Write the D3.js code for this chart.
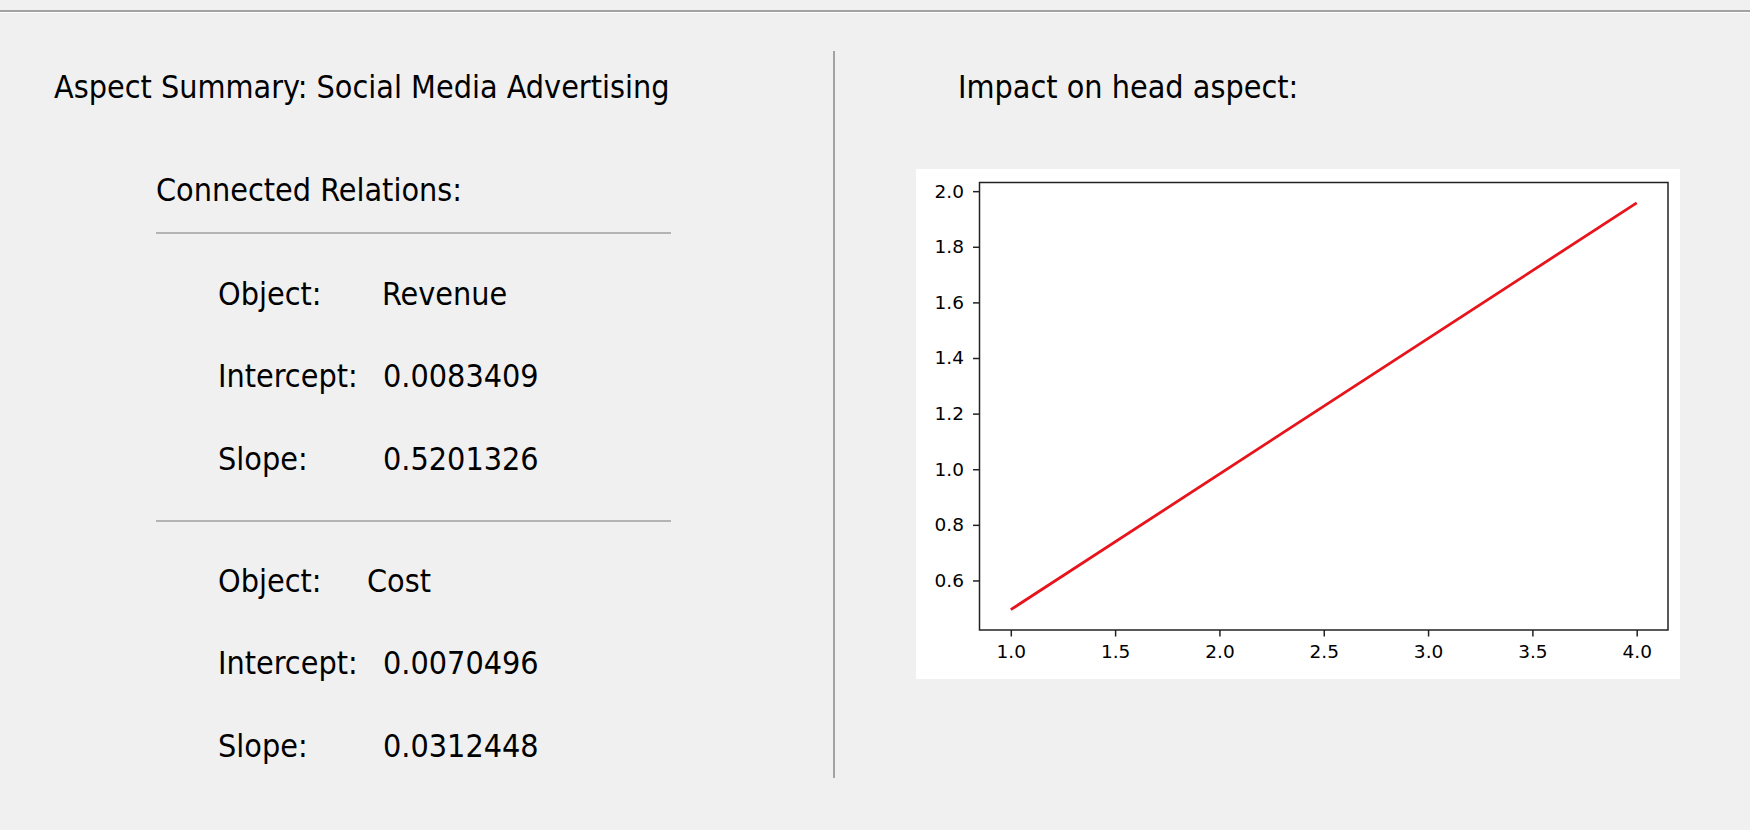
<!DOCTYPE html>
<html>
<head>
<meta charset="utf-8">
<script src="https://cdn.jsdelivr.net/npm/d3@7"></script>
<style>
  body { margin: 0; background: #f0f0f0; }
  svg text { font-family: "DejaVu Sans Condensed", "DejaVu Sans", sans-serif; }
</style>
</head>
<body>
<div id="image"></div>
<script>
const title = "Aspect Summary: Social Media Advertising";
const plotTitle = "Impact on head aspect:";
const relObjects = ["Revenue", "Cost"];
const relIntercepts = ["0.0083409", "0.0070496"];
const relSlopes = ["0.5201326", "0.0312448"];
const fieldNames = ["Object:", "Intercept:", "Slope:"];

// fitted line endpoints (x, y)
const lineX = [1.0, 4.0];
const lineY = [0.495, 1.958];
const xTicks = [1.0, 1.5, 2.0, 2.5, 3.0, 3.5, 4.0];
const yTicks = [0.6, 0.8, 1.0, 1.2, 1.4, 1.6, 1.8, 2.0];

var w = 1750, h = 830;
var fs = 32;

var svg = d3.select("#image").append("svg")
    .attr("width", w)
    .attr("height", h);

svg.append("rect").attr("width", w).attr("height", h).attr("fill", "#f0f0f0");

// window frame line at top
svg.append("line").attr("x1", 0).attr("x2", w).attr("y1", 11).attr("y2", 11)
    .attr("stroke", "#a3a3a3").attr("stroke-width", 2);
svg.append("line").attr("x1", 0).attr("x2", w).attr("y1", 12.5).attr("y2", 12.5)
    .attr("stroke", "#ffffff").attr("stroke-width", 1);

// divider
svg.append("line").attr("x1", 834).attr("x2", 834).attr("y1", 51).attr("y2", 778)
    .attr("stroke", "#8a8a8a").attr("stroke-width", 1.5);

function label(x, y, t) {
    return svg.append("text").attr("x", x).attr("y", y)
        .attr("font-size", fs).attr("fill", "#000").text(t);
}

label(54, 98, title);
label(156, 201, "Connected Relations:");
label(958, 98, plotTitle);

function sep(y) {
    svg.append("line").attr("x1", 156).attr("x2", 671).attr("y1", y).attr("y2", y)
        .attr("stroke", "#a0a0a0").attr("stroke-width", 1.5);
}
sep(233);

var rowY = [[305, 387, 470], [592, 674, 757]];
var valX = [382, 367];
relObjects.forEach((obj, i) => {
    if (i > 0) sep(521);
    var vals = [obj, relIntercepts[i], relSlopes[i]];
    fieldNames.forEach((f, j) => {
        label(218, rowY[i][j], f);
        label(j === 0 ? valX[i] : 383, rowY[i][j], vals[j]);
    });
});

// plot panel
svg.append("rect").attr("x", 916).attr("y", 169).attr("width", 764).attr("height", 510)
    .attr("fill", "#ffffff");

var pLeft = 979.5, pRight = 1668, pTop = 182.5, pBottom = 630;
var xPad = (lineX[1] - lineX[0]) * 0.05, yPad = (lineY[1] - lineY[0]) * 0.05;
var xs = d3.scaleLinear().domain([lineX[0] - xPad, lineX[1] + xPad]).range([pLeft, pRight]);
var ys = d3.scaleLinear().domain([lineY[0] - yPad, lineY[1] + yPad]).range([pBottom, pTop]);

var g = svg.append("g");
var xAxis = g.append("g").attr("transform", "translate(0," + pBottom + ")")
    .call(d3.axisBottom(xs).tickValues(xTicks).tickFormat(d3.format(".1f")).tickSize(6.5).tickPadding(8));
var yAxis = g.append("g").attr("transform", "translate(" + pLeft + ",0)")
    .call(d3.axisLeft(ys).tickValues(yTicks).tickFormat(d3.format(".1f")).tickSize(6.5).tickPadding(9));
[xAxis, yAxis].forEach(a => {
    a.select(".domain").remove();
    a.selectAll(".tick line").attr("stroke", "#222").attr("stroke-width", 1.5);
    a.selectAll(".tick text").attr("font-size", 18.5).attr("fill", "#000")
        .style("font-family", "'DejaVu Sans', sans-serif");
});

g.append("rect").attr("x", pLeft).attr("y", pTop).attr("width", pRight - pLeft).attr("height", pBottom - pTop)
    .attr("fill", "none").attr("stroke", "#222").attr("stroke-width", 1.5);

var pts = lineX.map((x, i) => [x, lineY[i]]);
g.append("path").datum(pts)
    .attr("d", d3.line().x(d => xs(d[0])).y(d => ys(d[1])))
    .attr("fill", "none").attr("stroke", "#e8141b").attr("stroke-width", 2.8);
</script>
</body>
</html>
